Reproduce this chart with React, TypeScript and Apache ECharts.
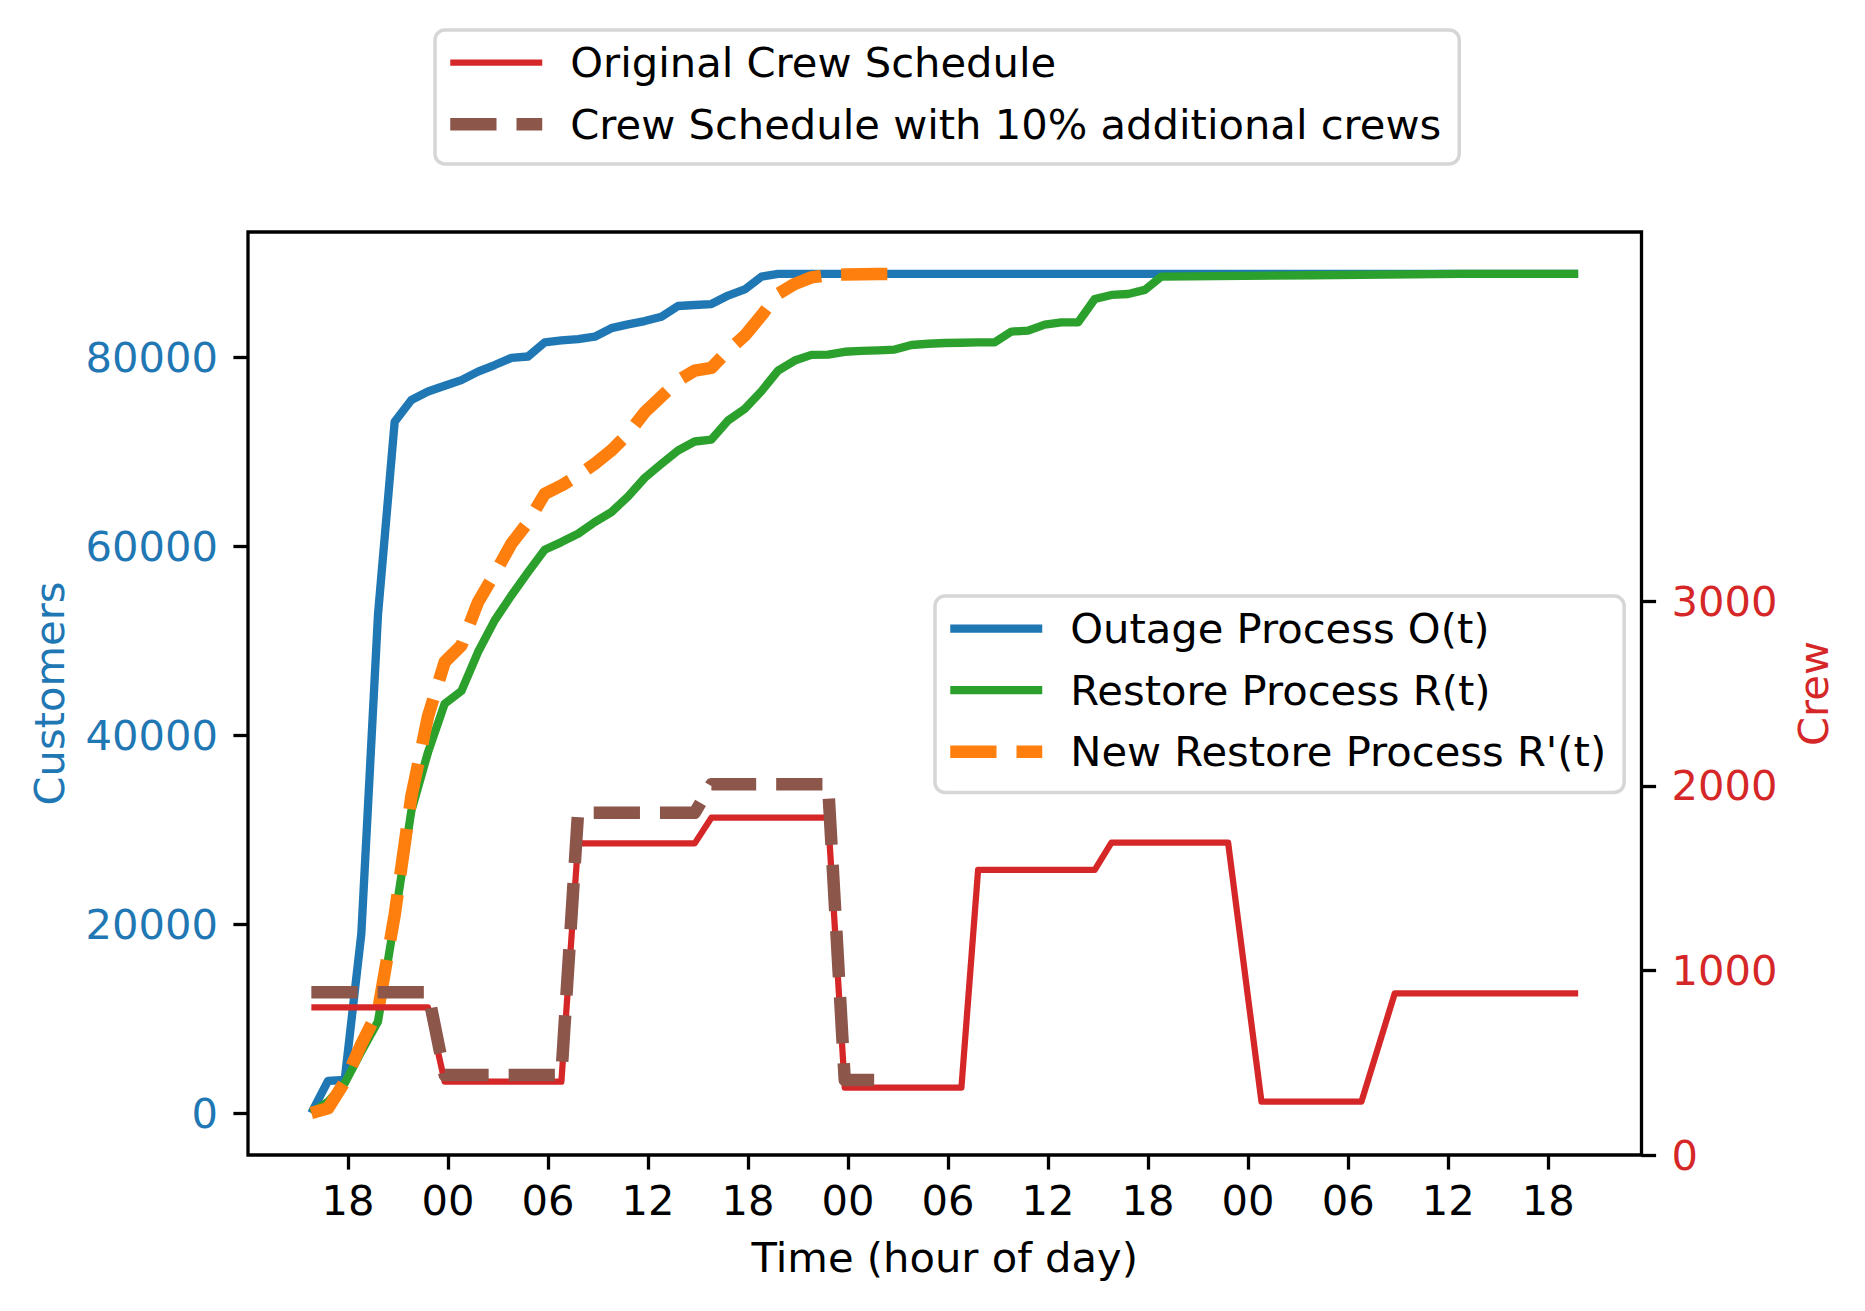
import React, { useEffect, useRef } from "react";
import * as echarts from "echarts";

// ---------------- data (hours counted from 00:00 of the first day) ----------------
const outageHours = [15.8, 16.8, 17.8, 18.8, 19.8, 20.8, 21.8, 22.8, 23.8, 24.8, 25.8, 26.8, 27.8, 28.8, 29.8, 30.8, 31.8, 32.8, 33.8, 34.8, 35.8, 36.8, 37.8, 38.8, 39.8, 40.8, 41.8, 42.8, 43.8, 91.8];
const outageValues = [0, 3400, 3500, 19000, 52800, 73200, 75500, 76400, 77000, 77600, 78500, 79200, 79950, 80100, 81600, 81800, 81950, 82200, 83100, 83500, 83850, 84300, 85450, 85550, 85650, 86550, 87200, 88550, 88840, 88840];

const restoreHours = [15.8, 16.8, 17.8, 18.8, 19.8, 20.8, 21.8, 22.8, 23.8, 24.8, 25.8, 26.8, 27.8, 28.8, 29.8, 30.8, 31.8, 32.8, 33.8, 34.8, 35.8, 36.8, 37.8, 38.8, 39.8, 40.8, 41.8, 42.8, 43.8, 44.8, 45.8, 46.8, 47.8, 48.8, 49.8, 50.8, 51.8, 52.8, 53.8, 54.8, 55.8, 56.8, 57.8, 58.8, 59.8, 60.8, 61.8, 62.8, 63.8, 64.8, 65.8, 66.8, 75.8, 84.8, 91.8];
const restoreValues = [0, 1200, 3150, 6500, 9700, 20500, 32000, 38200, 43340, 44680, 48810, 52160, 54800, 57270, 59640, 60450, 61330, 62560, 63620, 65280, 67250, 68730, 70150, 71100, 71310, 73320, 74550, 76420, 78610, 79670, 80270, 80300, 80600, 80700, 80750, 80830, 81320, 81450, 81530, 81560, 81590, 81610, 82740, 82840, 83480, 83720, 83720, 86190, 86620, 86720, 87150, 88560, 88700, 88840, 88840];

const newRestoreHours = [15.8, 16.8, 17.8, 18.8, 19.8, 20.8, 21.8, 22.8, 23.8, 24.8, 25.8, 26.8, 27.8, 28.8, 29.8, 30.8, 31.8, 32.8, 33.8, 34.8, 35.8, 36.8, 37.8, 38.8, 39.8, 40.8, 41.8, 42.8, 43.8, 44.8, 45.8, 46.8, 47.8, 48.8, 49.8, 50.8];
const newRestoreValues = [0, 500, 3300, 7300, 10800, 21000, 33500, 42000, 47750, 49500, 54100, 57100, 60270, 62560, 65560, 66440, 67500, 68730, 70150, 71910, 74200, 75860, 77550, 78610, 78890, 80730, 82310, 84430, 86720, 87780, 88480, 88730, 88780, 88810, 88840, 88840];

const crewHours = [15.8, 22.8, 23.8, 30.8, 31.8, 38.8, 39.8, 46.8, 47.8, 54.8, 55.8, 62.8, 63.8, 70.8, 72.8, 78.8, 80.8, 91.8];
const crewValues = [800, 800, 397, 397, 1688, 1688, 1827, 1827, 365, 365, 1544, 1544, 1692, 1692, 289, 289, 876, 876];

const crewPlusHours = [15.8, 22.8, 23.8, 30.8, 31.8, 38.8, 39.8, 46.8, 47.8, 49.8];
const crewPlusValues = [881, 881, 433, 433, 1854, 1854, 2008, 2008, 406, 406];

const xTicks = [18, 24, 30, 36, 42, 48, 54, 60, 66, 72, 78, 84, 90];
const customerTicks = [0, 20000, 40000, 60000, 80000];
const crewTicks = [0, 1000, 2000, 3000];

const NAME_OUTAGE = "Outage Process O(t)";
const NAME_RESTORE = "Restore Process R(t)";
const NAME_NEW = "New Restore Process R'(t)";
const NAME_CREW = "Original Crew Schedule";
const NAME_CREW_PLUS = "Crew Schedule with 10% additional crews";

const zip = (xs: number[], ys: number[]) => xs.map((x, i) => [x, ys[i]]);

const FONT = "'DejaVu Sans', Verdana, sans-serif";
const FS = 41.67;
const BLUE = "#1f77b4";
const ORANGE = "#ff7f0e";
const GREEN = "#2ca02c";
const RED = "#d62728";
const BROWN = "#8c564b";
const DASH = [46.25, 20];

const tickStyle = { color: "#000", width: 3.3 };
const plainNumber = (v: number) => String(Math.round(v));

const legendCommon = {
  orient: "vertical" as const,
  selectedMode: false,
  itemWidth: 92,
  itemHeight: 10,
  itemGap: 11.5,
  backgroundColor: "rgba(255,255,255,0.8)",
  borderColor: "#d6d6d6",
  borderWidth: 3.5,
  borderRadius: 10,
  itemStyle: { opacity: 0 },
  lineStyle: { width: "inherit" },
  textStyle: {
    fontFamily: FONT,
    fontSize: FS,
    color: "#000",
    lineHeight: 50,
    padding: [0, 0, 0, 23],
  },
};

function buildOption() {
  return {
    animation: false,
    backgroundColor: "#fff",
    textStyle: { fontFamily: FONT },
    grid: {
      left: 248,
      top: 232,
      width: 1393.5,
      height: 923,
      show: true,
      borderColor: "#000",
      borderWidth: 3.3,
      backgroundColor: "transparent",
      containLabel: false,
    },
    legend: [
      {
        ...legendCommon,
        left: 435,
        top: 30,
        padding: [7.7, 18, 14.7, 9],
        data: [NAME_CREW, NAME_CREW_PLUS],
      },
      {
        ...legendCommon,
        left: 935,
        top: 596,
        padding: [7.7, 18, 15.7, 9],
        data: [NAME_OUTAGE, NAME_RESTORE, NAME_NEW],
      },
    ],
    xAxis: {
      type: "value",
      min: 12,
      max: 95.6,
      axisLine: { show: false, onZero: false },
      splitLine: { show: false },
      axisTick: { show: true, length: 14.6, lineStyle: tickStyle, customValues: xTicks },
      axisLabel: {
        customValues: xTicks,
        formatter: (v: number) => String(Math.round(v) % 24).padStart(2, "0"),
        fontFamily: FONT,
        fontSize: FS,
        color: "#000",
        margin: 20,
        lineHeight: 50,
      },
      name: "Time (hour of day)",
      nameLocation: "middle",
      nameGap: 77,
      nameTextStyle: { fontFamily: FONT, fontSize: FS, color: "#000", lineHeight: 50 },
    },
    yAxis: [
      {
        type: "value",
        position: "left",
        min: -4442,
        max: 93282,
        axisLine: { show: false, onZero: false },
        splitLine: { show: false },
        axisTick: { show: true, length: 14.6, lineStyle: tickStyle, customValues: customerTicks },
        axisLabel: {
          customValues: customerTicks,
          formatter: plainNumber,
          fontFamily: FONT,
          fontSize: FS,
          color: BLUE,
          margin: 30,
        },
        name: "Customers",
        nameLocation: "middle",
        nameGap: 161,
        nameTextStyle: { fontFamily: FONT, fontSize: FS, color: BLUE, lineHeight: 50 },
      },
      {
        type: "value",
        position: "right",
        min: 0,
        max: 5000,
        axisLine: { show: false, onZero: false },
        splitLine: { show: false },
        axisTick: { show: true, length: 14.6, lineStyle: tickStyle, customValues: crewTicks },
        axisLabel: {
          customValues: crewTicks,
          formatter: plainNumber,
          fontFamily: FONT,
          fontSize: FS,
          color: RED,
          margin: 30,
        },
        name: "Crew",
        nameLocation: "middle",
        nameGap: 130,
        nameTextStyle: { fontFamily: FONT, fontSize: FS, color: RED, lineHeight: 50 },
      },
    ],
    series: [
      {
        name: NAME_OUTAGE,
        type: "line",
        yAxisIndex: 0,
        data: zip(outageHours, outageValues),
        symbol: "none",
        showSymbol: false,
        itemStyle: { color: BLUE },
        lineStyle: { color: BLUE, width: 8.33, join: "round" },
        emphasis: { disabled: true },
        z: 2,
      },
      {
        name: NAME_RESTORE,
        type: "line",
        yAxisIndex: 0,
        data: zip(restoreHours, restoreValues),
        symbol: "none",
        showSymbol: false,
        itemStyle: { color: GREEN },
        lineStyle: { color: GREEN, width: 8.33, join: "round" },
        emphasis: { disabled: true },
        z: 3,
      },
      {
        name: NAME_NEW,
        type: "line",
        yAxisIndex: 0,
        data: zip(newRestoreHours, newRestoreValues),
        symbol: "none",
        showSymbol: false,
        itemStyle: { color: ORANGE },
        lineStyle: { color: ORANGE, width: 12.5, type: DASH, join: "round" },
        emphasis: { disabled: true },
        z: 4,
      },
      {
        name: NAME_CREW,
        type: "line",
        yAxisIndex: 1,
        data: zip(crewHours, crewValues),
        symbol: "none",
        showSymbol: false,
        itemStyle: { color: RED },
        lineStyle: { color: RED, width: 6.25, join: "round" },
        emphasis: { disabled: true },
        z: 5,
      },
      {
        name: NAME_CREW_PLUS,
        type: "line",
        yAxisIndex: 1,
        data: zip(crewPlusHours, crewPlusValues),
        symbol: "none",
        showSymbol: false,
        itemStyle: { color: BROWN },
        lineStyle: { color: BROWN, width: 12.5, type: DASH, join: "round" },
        emphasis: { disabled: true },
        z: 6,
      },
    ],
  };
}

export default function App() {
  const ref = useRef<HTMLDivElement>(null);
  useEffect(() => {
    if (!ref.current) return;
    const chart = echarts.init(ref.current, undefined, { renderer: "svg" });
    chart.setOption(buildOption() as any);
    return () => {
      chart.dispose();
    };
  }, []);
  return (
    <div
      ref={ref}
      style={{ position: "absolute", left: 0, top: 0, width: 1865, height: 1311, background: "#fff" }}
    />
  );
}
